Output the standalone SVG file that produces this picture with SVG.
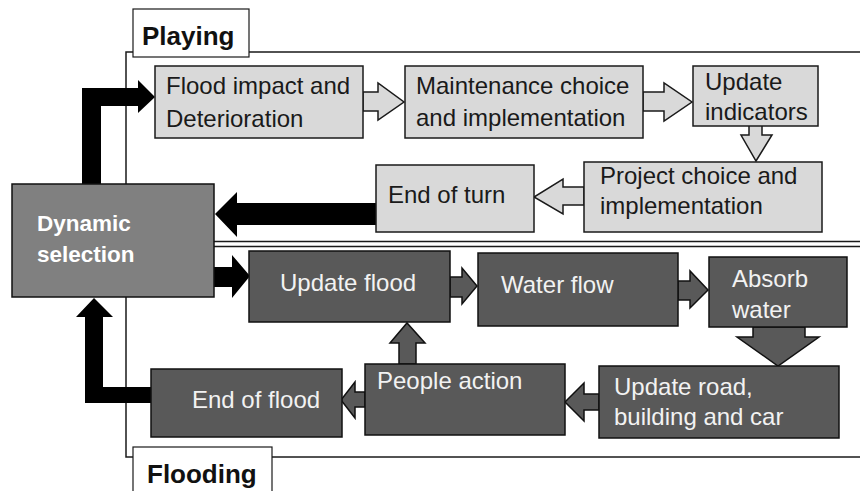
<svg xmlns="http://www.w3.org/2000/svg" width="860" height="491" viewBox="0 0 860 491">
<style>
text{font-family:"Liberation Sans",Arial,sans-serif;font-size:24px}
.frame{fill:none;stroke:#1a1a1a;stroke-width:1.5}
.label{fill:#fff;stroke:#1a1a1a;stroke-width:1.2}
.lbl{font-weight:bold;font-size:26px;fill:#111}
.light{fill:#d9d9d9;stroke:#1a1a1a;stroke-width:1.5}
.dark{fill:#595959;stroke:#111;stroke-width:1.5}
.dyn{fill:#808080;stroke:#111;stroke-width:1.5}
.tl{fill:#1a1a1a}
.td{fill:#f2f2f2}
.tdyn{fill:#fff;font-weight:bold;font-size:22.5px}
.blk{fill:#000}
.hl{fill:#d9d9d9;stroke:#1a1a1a;stroke-width:1.5;stroke-linejoin:miter}
.hd{fill:#595959;stroke:#111;stroke-width:1.5;stroke-linejoin:miter}
</style>
<rect width="860" height="491" fill="#fff"/>
<g id="frames">
<rect class="frame" x="126" y="52" width="760" height="189.5"/>
<rect class="frame" x="126" y="246.5" width="760" height="210.5"/>
</g>
<g id="label-playing"><rect class="label" x="133" y="9" width="116" height="48"/><text class="lbl" x="142" y="45">Playing</text></g>
<g id="label-flooding"><rect class="label" x="133" y="447" width="139" height="60"/><text class="lbl" x="147" y="483">Flooding</text></g>
<g id="connectors">
<polygon class="blk" points="82,184 82,88 138,88 138,80 155,97 138,113 138,106 101,106 101,184"/>
<polygon class="blk" points="376,203 237,203 237,192 215,214 237,237 237,225 376,225"/>
<polygon class="blk" points="214,267 232,267 232,255 250,276 232,298 232,287 214,287"/>
<polygon class="blk" points="151,387 103,387 103,317 113,317 94,298 76,317 85,317 85,403 151,403"/>
<polygon class="hl" points="363,92 378,92 378,83 404,102 378,120 378,111 363,111"/>
<polygon class="hl" points="643,92 664,92 664,83 692,102 664,121 664,111 643,111"/>
<polygon class="hl" points="749,125 762,125 762,135 772,135 756,161 741,135 749,135"/>
<polygon class="hl" points="584,187 563,187 563,179 534,197 563,214 563,205 584,205"/>
<polygon class="hd" points="450,277 462,277 462,268 477,286 462,304 462,297 450,297"/>
<polygon class="hd" points="678,281 690,281 690,271 708,290 690,308 690,300 678,300"/>
<polygon class="hd" points="753,327 805,327 805,337 819,337 778,366 737,337 753,337"/>
<polygon class="hd" points="599,394 584,394 584,383 565,402 584,421 584,410 599,410"/>
<polygon class="hd" points="399,364 399,343 390,343 407,323 425,343 416,343 416,364"/>
<polygon class="hd" points="365,392 355,392 355,382 341,400 355,418 355,407 365,407"/>
</g>
<g id="dynamic-selection"><rect class="dyn" x="12" y="184" width="202" height="113"/><text class="tdyn" x="37" y="231">Dynamic</text><text class="tdyn" x="37" y="262">selection</text></g>
<g id="flood-impact"><rect class="light" x="155" y="66" width="208" height="72"/><text class="tl" x="166" y="94">Flood impact and</text><text class="tl" x="166" y="127">Deterioration</text></g>
<g id="maintenance"><rect class="light" x="405" y="66" width="238" height="72"/><text class="tl" x="416" y="94">Maintenance choice</text><text class="tl" x="416" y="126">and implementation</text></g>
<g id="update-indicators"><rect class="light" x="693" y="66" width="125" height="60"/><text class="tl" x="705" y="90">Update</text><text class="tl" x="705" y="120">indicators</text></g>
<g id="project-choice"><rect class="light" x="584" y="162" width="238" height="70"/><text class="tl" x="600" y="184">Project choice and</text><text class="tl" x="600" y="214">implementation</text></g>
<g id="end-of-turn"><rect class="light" x="376" y="165" width="158" height="67"/><text class="tl" x="388" y="203">End of turn</text></g>
<g id="update-flood"><rect class="dark" x="249" y="251" width="201" height="71"/><text class="td" x="280" y="291">Update flood</text></g>
<g id="water-flow"><rect class="dark" x="478" y="253" width="200" height="73"/><text class="td" x="501" y="293">Water flow</text></g>
<g id="absorb-water"><rect class="dark" x="709" y="257" width="138" height="70"/><text class="td" x="732" y="287">Absorb</text><text class="td" x="732" y="318">water</text></g>
<g id="update-road"><rect class="dark" x="599" y="366" width="240" height="72"/><text class="td" x="614" y="395">Update road,</text><text class="td" x="614" y="425">building and car</text></g>
<g id="people-action"><rect class="dark" x="365" y="364" width="200" height="71"/><text class="td" x="377" y="389">People action</text></g>
<g id="end-of-flood"><rect class="dark" x="151" y="369" width="191" height="68"/><text class="td" x="192" y="408">End of flood</text></g>
</svg>
